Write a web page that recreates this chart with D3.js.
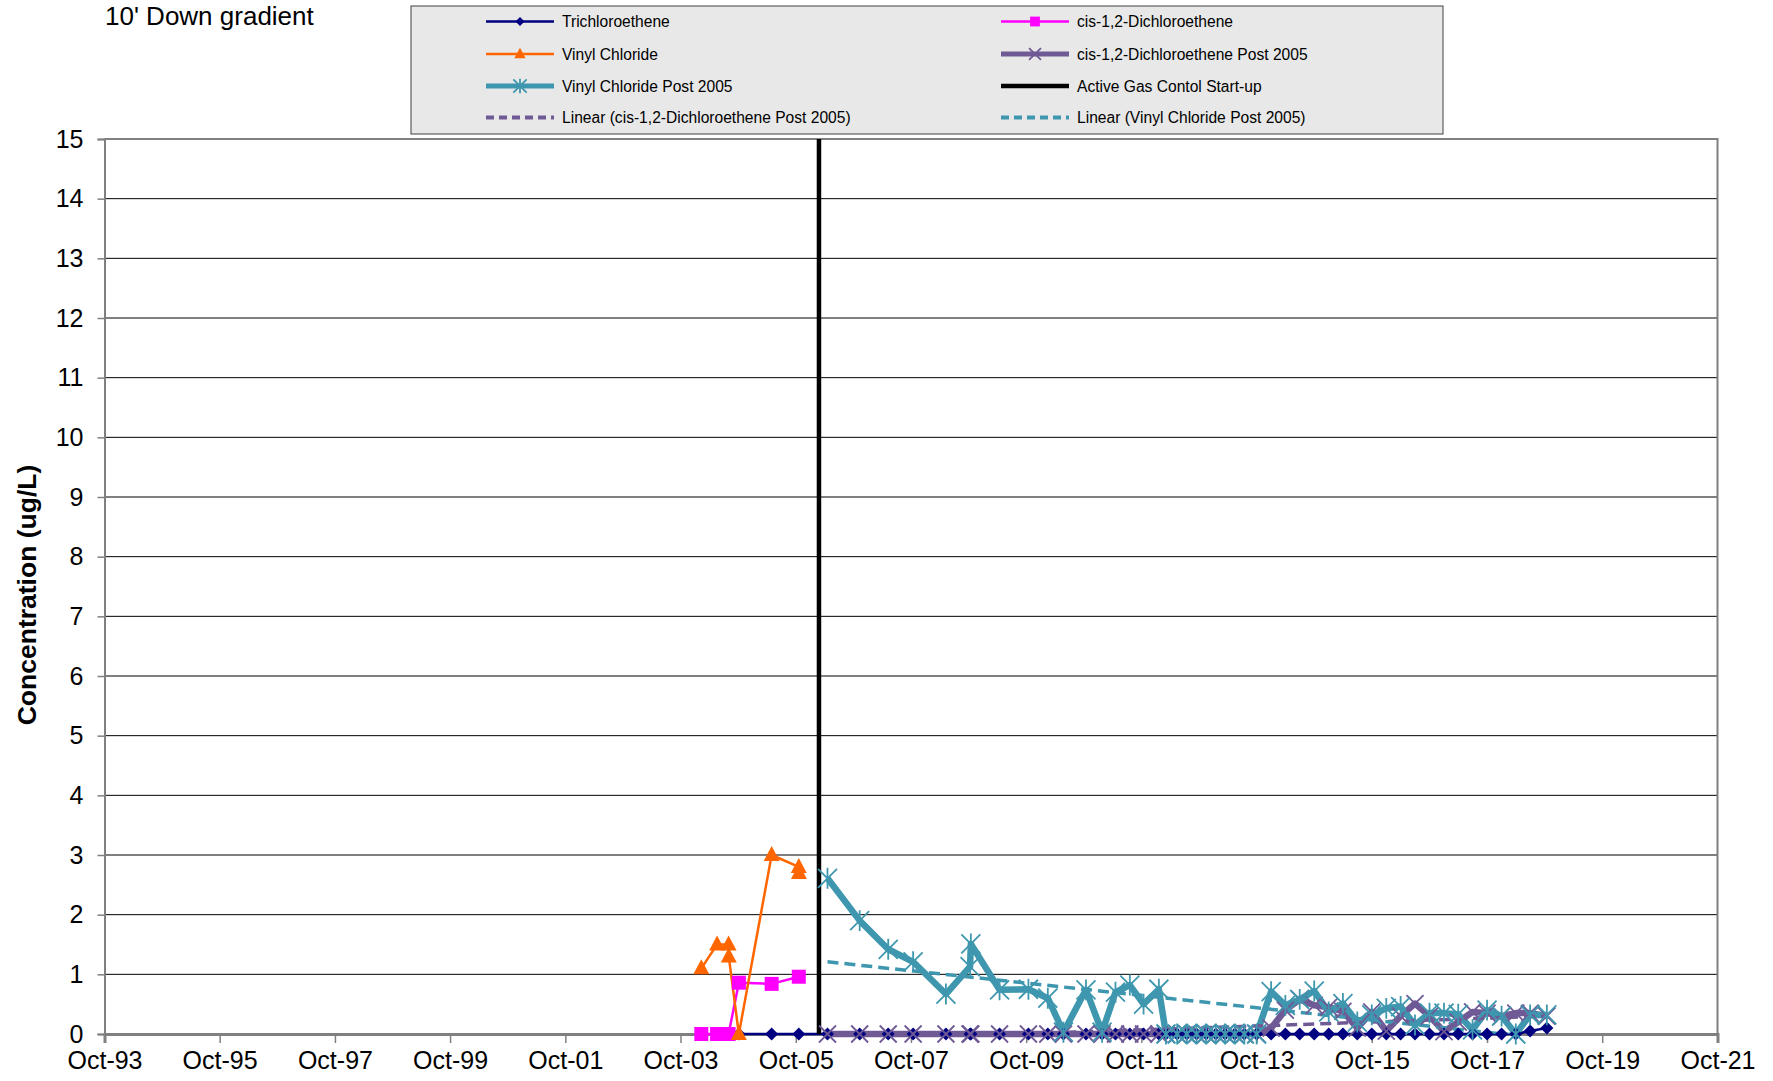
<!DOCTYPE html>
<html><head><meta charset="utf-8">
<script src="https://cdn.jsdelivr.net/npm/d3@7"></script>
<style>
body{margin:0;background:#fff;}
svg{display:block;font-family:"Liberation Sans",Arial,sans-serif;}
</style>
</head><body>
<svg id="chart" width="1773" height="1081"></svg>
<script>
// ---------- DATA ----------
const chartTitle = "10' Down gradient";
const yAxisTitle = "Concentration (ug/L)";
const yTicks = [0,1,2,3,4,5,6,7,8,9,10,11,12,13,14,15];
const xTickDates = ["1993-10-01","1995-10-01","1997-10-01","1999-10-01","2001-10-01","2003-10-01","2005-10-01","2007-10-01","2009-10-01","2011-10-01","2013-10-01","2015-10-01","2017-10-01","2019-10-01","2021-10-01"];
const xTickLabels = ["Oct-93","Oct-95","Oct-97","Oct-99","Oct-01","Oct-03","Oct-05","Oct-07","Oct-09","Oct-11","Oct-13","Oct-15","Oct-17","Oct-19","Oct-21"];

// Trichloroethene (whole record)
const tceDates = ["2004-10-05","2005-05-01","2005-10-20",
  "2006-04-20","2006-11-10","2007-05-10","2007-10-15","2008-05-10","2008-10-10","2008-10-15","2009-04-15","2009-10-15","2010-02-15","2010-05-25","2010-10-15","2011-01-25","2011-04-20","2011-07-20","2011-10-15","2012-01-20","2012-03-05",
  "2012-05-15","2012-07-15","2012-09-15","2012-11-15","2013-01-15","2013-03-15","2013-05-15","2013-07-15","2013-10-01",
  "2014-01-01","2014-04-01","2014-07-01","2014-10-01","2015-01-01","2015-04-01","2015-07-01","2015-10-01","2016-01-01","2016-04-01","2016-07-01","2016-10-01","2017-01-01","2017-04-01","2017-07-01","2017-10-01","2018-01-01","2018-04-01","2018-07-01","2018-10-15"];
const tceValues = [0,0,0,
  0,0,0,0,0,0,0,0,0,0,0,0,0,0,0,0,0,0,
  0,0,0,0,0,0,0,0,0,
  0,0,0,0,0,0,0,0,0,0,0,0,0,0,0,0,0,0,0.05,0.1];

// cis-1,2-Dichloroethene (pre 2006)
const dceDates = ["2004-02-10","2004-05-20","2004-08-01","2004-10-05","2005-05-01","2005-10-20"];
const dceValues = [0,0,0,0.86,0.84,0.96];

// Vinyl Chloride (pre 2006)
const vcDates = ["2004-02-10","2004-05-20","2004-08-01","2004-08-02","2004-10-05","2005-05-01","2005-10-20","2005-10-21"];
const vcValues = [1.1,1.5,1.5,1.3,0,3.0,2.8,2.7];

// Post 2005 sampling dates (shared)
const postDates = ["2006-04-20","2006-11-10","2007-05-10","2007-10-15","2008-05-10","2008-10-10","2008-10-15","2009-04-15","2009-10-15","2010-02-15","2010-05-25","2010-10-15","2011-01-25","2011-04-20","2011-07-20","2011-10-15","2012-01-20","2012-03-05",
  "2012-05-15","2012-07-15","2012-09-15","2012-11-15","2013-01-15","2013-03-15","2013-05-15","2013-07-15","2013-10-01",
  "2014-01-01","2014-04-01","2014-07-01","2014-10-01","2015-01-01","2015-04-01","2015-07-01","2015-10-01","2016-01-01","2016-04-01","2016-07-01","2016-10-01","2017-01-01","2017-04-01","2017-07-01","2017-10-01","2018-01-01","2018-04-01","2018-07-01","2018-10-15"];
const dcePostValues = [0,0,0,0,0,0,0,0,0,0,0,0,0,0,0,0,0,0,
  0,0,0,0,0,0,0,0,0,
  0.1,0.4,0.58,0.48,0.45,0.38,0.1,0.37,0.05,0.3,0.51,0.3,0.04,0.2,0.37,0.35,0.3,0.35,0.35,0.3];
const vcPostValues = [2.61,1.9,1.42,1.21,0.67,1.13,1.51,0.74,0.75,0.6,0.03,0.74,0.03,0.7,0.82,0.5,0.75,0,
  0,0,0,0,0,0,0,0,0,
  0.71,0.48,0.58,0.72,0.37,0.51,0.2,0.32,0.43,0.46,0.15,0.35,0.35,0.33,0.07,0.4,0.3,0.0,0.32,0.32];

// Active gas control start-up
const gasDates = ["2006-02-25","2006-02-25"];
const gasValues = [0,15];

// Linear trendlines (end points)
const trendDceDates = ["2006-04-20","2018-10-15"];
const trendDceValues = [-0.11,0.30];
const trendVcDates = ["2006-04-20","2018-10-15"];
const trendVcValues = [1.21,-0.08];

// ---------- CHART ----------
const parse = d3.timeParse("%Y-%m-%d");
const zip = (ds, vs) => ds.map((d,i)=>({x:parse(d), y:vs[i]}));

const svg = d3.select("#chart");
const X0 = 104.5, X1 = 1717.5, Y0 = 1034, Y1 = 139;
const x = d3.scaleTime().domain([parse(xTickDates[0]), parse(xTickDates[xTickDates.length-1])]).range([X0, X1]);
const y = d3.scaleLinear().domain([0,15]).range([Y0, Y1]);

svg.append("defs").append("clipPath").attr("id","plotclip")
  .append("rect").attr("x",X0).attr("y",Y1).attr("width",X1-X0).attr("height",Y0-Y1);

// gridlines
svg.append("g").selectAll("line").data(yTicks.filter(v=>v>0 && v<15)).join("line")
  .attr("x1",X0).attr("x2",X1).attr("y1",d=>y(d)).attr("y2",d=>y(d))
  .attr("stroke","#000").attr("stroke-width",1);
// plot border top/right
svg.append("path").attr("d",`M${X0},${y(15)}H${X1}V${Y0}`).attr("fill","none").attr("stroke","#808080").attr("stroke-width",2);

// axes
const yAxis = svg.append("g").attr("transform",`translate(${X0},0)`)
  .call(d3.axisLeft(y).tickValues(yTicks).tickSize(7).tickPadding(14).tickFormat(d3.format("d")));
yAxis.select(".domain").attr("stroke","#808080").attr("stroke-width",2);
yAxis.selectAll(".tick line").attr("stroke","#808080").attr("stroke-width",1.5);
yAxis.selectAll("text").attr("font-size",25).attr("fill","#000").attr("font-family","Liberation Sans, Arial, sans-serif");

const xAxis = svg.append("g").attr("transform",`translate(0,${Y0})`)
  .call(d3.axisBottom(x).tickValues(xTickDates.map(parse)).tickSize(9).tickPadding(8).tickFormat((d,i)=>xTickLabels[i]));
xAxis.select(".domain").attr("stroke","#808080").attr("stroke-width",3);
xAxis.selectAll(".tick line").attr("stroke","#808080").attr("stroke-width",1.5);
xAxis.selectAll("text").attr("font-size",25).attr("fill","#000").attr("font-family","Liberation Sans, Arial, sans-serif");

// titles
svg.append("text").attr("x",105).attr("y",25).attr("font-size",26).text(chartTitle);
svg.append("text").attr("transform",`translate(36,595) rotate(-90)`)
  .attr("text-anchor","middle").attr("font-size",26.5).attr("font-weight","bold").text(yAxisTitle);

// series definitions
const navy="#000080", magenta="#ff00ff", orange="#ff6600", purple="#6f5a96", teal="#3f97af";
const line = d3.line().x(d=>x(d.x)).y(d=>y(d.y));

const series = [
  {name:"Trichloroethene", data:zip(tceDates,tceValues), color:navy, width:2.5, marker:"diamond"},
  {name:"cis-1,2-Dichloroethene", data:zip(dceDates,dceValues), color:magenta, width:2.5, marker:"square"},
  {name:"Vinyl Chloride", data:zip(vcDates,vcValues), color:orange, width:2.5, marker:"triangle"},
  {name:"cis-1,2-Dichloroethene Post 2005", data:zip(postDates,dcePostValues), color:purple, width:6.5, marker:"x"},
  {name:"Vinyl Chloride Post 2005", data:zip(postDates,vcPostValues), color:teal, width:6.5, marker:"star"},
  {name:"Active Gas Contol Start-up", data:zip(gasDates,gasValues), color:"#000", width:4.5, marker:null},
];
const trends = [
  {name:"Linear (cis-1,2-Dichloroethene Post 2005)", data:zip(trendDceDates,trendDceValues), color:purple},
  {name:"Linear (Vinyl Chloride Post 2005)", data:zip(trendVcDates,trendVcValues), color:teal},
];

function drawMarker(g, type, cx, cy, color, k=1){
  if(type==="diamond"){
    const r=6.5*k;
    g.append("path").attr("d",`M${cx},${cy-r}L${cx+r},${cy}L${cx},${cy+r}L${cx-r},${cy}Z`).attr("fill",color);
  } else if(type==="square"){
    const s=14*k;
    g.append("rect").attr("x",cx-s/2).attr("y",cy-s/2).attr("width",s).attr("height",s).attr("fill",color);
  } else if(type==="triangle"){
    const w=16*k,h=15*k;
    g.append("path").attr("d",`M${cx},${cy-h*0.6}L${cx+w/2},${cy+h*0.4}L${cx-w/2},${cy+h*0.4}Z`).attr("fill",color);
  } else if(type==="x"){
    const r=8.5*k;
    g.append("path").attr("d",`M${cx-r},${cy-r}L${cx+r},${cy+r}M${cx-r},${cy+r}L${cx+r},${cy-r}`)
      .attr("stroke",color).attr("stroke-width",1.8).attr("fill","none");
  } else if(type==="star"){
    const r=9.5*k;
    g.append("path").attr("d",`M${cx-r},${cy-r}L${cx+r},${cy+r}M${cx-r},${cy+r}L${cx+r},${cy-r}M${cx},${cy-r*1.1}L${cx},${cy+r*1.1}`)
      .attr("stroke",color).attr("stroke-width",1.8).attr("fill","none");
  }
}

// lines
const linesG = svg.append("g");
series.forEach(s=>{
  linesG.append("path").datum(s.data).attr("d",line).attr("fill","none")
    .attr("stroke",s.color).attr("stroke-width",s.width).attr("stroke-linejoin","round");
});
// trendlines
const trendG = svg.append("g").attr("clip-path","url(#plotclip)");
trends.forEach(t=>{
  trendG.append("path").datum(t.data).attr("d",line).attr("fill","none")
    .attr("stroke",t.color).attr("stroke-width",3.5).attr("stroke-dasharray","11,6");
});
// markers
const markG = svg.append("g");
series.forEach(s=>{
  if(!s.marker) return;
  s.data.forEach(d=>drawMarker(markG, s.marker, x(d.x), y(d.y), s.color));
});

// legend
const lg = svg.append("g");
lg.append("rect").attr("x",411).attr("y",6).attr("width",1032).attr("height",128)
  .attr("fill","#e8e8e8").attr("stroke","#404040").attr("stroke-width",1);
const legendItems = [
  {s:series[0], col:0,row:0},{s:series[1], col:1,row:0},
  {s:series[2], col:0,row:1},{s:series[3], col:1,row:1},
  {s:series[4], col:0,row:2},{s:series[5], col:1,row:2},
  {s:trends[0], col:0,row:3, dash:true},{s:trends[1], col:1,row:3, dash:true},
];
const colX = [486, 1001], rowY = [21.5, 54, 86, 117.5];
legendItems.forEach(it=>{
  const lx = colX[it.col], ly = rowY[it.row];
  const lw = it.dash ? 4 : Math.min(it.s.width, 5);
  lg.append("line").attr("x1",lx).attr("x2",lx+68).attr("y1",ly).attr("y2",ly)
    .attr("stroke",it.s.color).attr("stroke-width",lw)
    .attr("stroke-dasharray", it.dash ? "8,5" : null);
  if(!it.dash && it.s.marker) drawMarker(lg, it.s.marker, lx+34, ly, it.s.color, 0.7);
  lg.append("text").attr("x",lx+76).attr("y",ly+5.5).attr("font-size",15.6).text(it.s.name);
});
</script>
</body></html>
